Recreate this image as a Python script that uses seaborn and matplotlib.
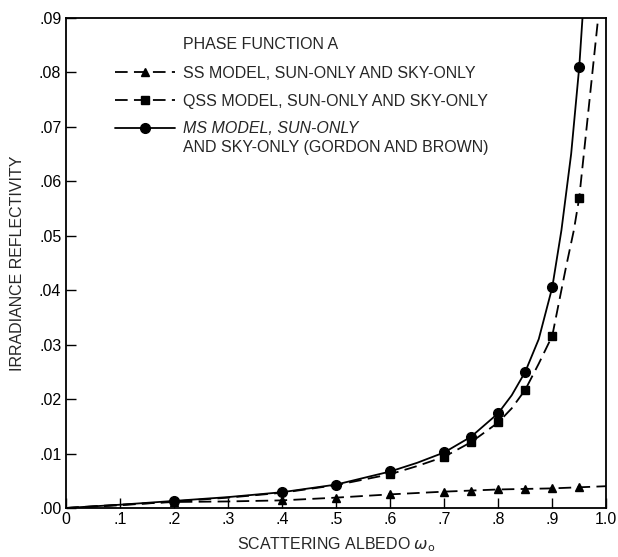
import seaborn as sns
import matplotlib.pyplot as plt
from matplotlib.lines import Line2D

# curves
ms_x = [0, 0.1, 0.2, 0.3, 0.4, 0.5, 0.6, 0.65, 0.7, 0.75, 0.8, 0.825, 0.85, 0.875, 0.9, 0.917, 0.935, 0.95, 0.956]
ms_y = [0, 0.0006, 0.0013, 0.002, 0.0029, 0.0043, 0.0067, 0.0083, 0.0102, 0.0131, 0.0174, 0.0207, 0.025, 0.031, 0.0405, 0.051, 0.065, 0.081, 0.09]
qss_x = [0, 0.1, 0.2, 0.3, 0.4, 0.5, 0.6, 0.65, 0.7, 0.75, 0.8, 0.825, 0.85, 0.875, 0.9, 0.925, 0.94, 0.95, 0.967, 0.985]
qss_y = [0, 0.0005, 0.0012, 0.0019, 0.0028, 0.0042, 0.0062, 0.0077, 0.0094, 0.0121, 0.0157, 0.0183, 0.0217, 0.0265, 0.0316, 0.044, 0.051, 0.057, 0.073, 0.09]
ss_x = [0, 0.1, 0.2, 0.3, 0.4, 0.5, 0.6, 0.7, 0.75, 0.8, 0.85, 0.9, 0.95, 1.0]
ss_y = [0, 0.0006, 0.0011, 0.0012, 0.0014, 0.0019, 0.0025, 0.003, 0.0032, 0.0034, 0.0035, 0.0036, 0.0038, 0.004]

# plotted symbols
ms_pts_x = [0.2, 0.4, 0.5, 0.6, 0.7, 0.75, 0.8, 0.85, 0.9, 0.95]
ms_pts_y = [0.0013, 0.0029, 0.0043, 0.0067, 0.0102, 0.0131, 0.0174, 0.025, 0.0405, 0.081]
qss_pts_x = [0.6, 0.7, 0.75, 0.8, 0.85, 0.9, 0.95]
qss_pts_y = [0.0062, 0.0094, 0.0121, 0.0157, 0.0217, 0.0316, 0.057]
ss_pts_x = [0.2, 0.4, 0.5, 0.6, 0.7, 0.75, 0.8, 0.85, 0.9, 0.95]
ss_pts_y = [0.0011, 0.0014, 0.0019, 0.0025, 0.003, 0.0032, 0.0034, 0.0035, 0.0036, 0.0038]

x_ticks = [0, 0.1, 0.2, 0.3, 0.4, 0.5, 0.6, 0.7, 0.8, 0.9, 1.0]
x_labels = ["0", ".1", ".2", ".3", ".4", ".5", ".6", ".7", ".8", ".9", "1.0"]
y_ticks = [0, 0.01, 0.02, 0.03, 0.04, 0.05, 0.06, 0.07, 0.08, 0.09]
y_labels = [".00", ".01", ".02", ".03", ".04", ".05", ".06", ".07", ".08", ".09"]

sns.set_style("ticks")
plt.rcParams['font.family'] = ['Liberation Sans', 'DejaVu Sans']

fig = plt.figure(figsize=(6.18, 5.57), dpi=100)
ax = fig.add_axes([0.107, 0.088, 0.874, 0.88])

dash = (7, 3.5)
sns.lineplot(x=ss_x, y=ss_y, ax=ax, color="black", lw=1.3, sort=False)
ax.lines[-1].set_dashes(dash)
sns.lineplot(x=qss_x, y=qss_y, ax=ax, color="black", lw=1.3, sort=False)
ax.lines[-1].set_dashes(dash)
sns.lineplot(x=ms_x, y=ms_y, ax=ax, color="black", lw=1.3, sort=False)

ax.plot(ss_pts_x, ss_pts_y, "^", color="black", ms=5.5)
ax.plot(qss_pts_x, qss_pts_y, "s", color="black", ms=6)
ax.plot(ms_pts_x, ms_pts_y, "o", color="black", ms=7)

ax.set_xlim(0, 1.0)
ax.set_ylim(0, 0.09)
ax.set_xticks(x_ticks)
ax.set_xticklabels(x_labels)
ax.set_yticks(y_ticks)
ax.set_yticklabels(y_labels)
ax.tick_params(direction="in", length=7, width=1, labelsize=11.5, colors="black")
ax.tick_params(axis="x", pad=3)
for s in ax.spines.values():
    s.set_linewidth(1.3)
    s.set_color("black")

ax.set_xlabel(r"SCATTERING ALBEDO $\omega_{\rm o}$", fontsize=11.5, labelpad=6)
ax.set_ylabel("IRRADIANCE REFLECTIVITY", fontsize=11.5, labelpad=10)

handles = [
    Line2D([], [], color="black", lw=1.3, ls=(0, dash), marker="^", ms=5.5),
    Line2D([], [], color="black", lw=1.3, ls=(0, dash), marker="s", ms=6),
    Line2D([], [], color="black", lw=1.3, marker="o", ms=7),
]
labels = ["SS MODEL, SUN-ONLY AND SKY-ONLY",
          "QSS MODEL, SUN-ONLY AND SKY-ONLY",
          "MS MODEL, SUN-ONLY"]
leg = ax.legend(handles, labels, loc="upper left", bbox_to_anchor=(0.079, 0.915),
                frameon=False, numpoints=1, handlelength=3.75, handletextpad=0.5,
                labelspacing=0.8, fontsize=11.5, borderaxespad=0)
leg.get_texts()[2].set_style("italic")
ax.text(0.217, 0.945, "PHASE FUNCTION A", transform=ax.transAxes, fontsize=11.5, va="center")
ax.text(0.217, 0.735, "AND SKY-ONLY (GORDON AND BROWN)", transform=ax.transAxes,
        fontsize=11.5, va="center")

fig.savefig("out.png", dpi=100)
